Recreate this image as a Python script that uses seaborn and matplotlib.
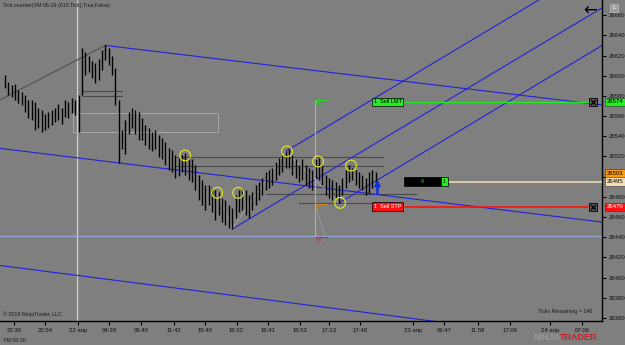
import numpy as np
import pandas as pd
import seaborn as sns
import matplotlib
matplotlib.use("Agg")
import matplotlib.pyplot as plt
from matplotlib.transforms import blended_transform_factory
from matplotlib.patches import Rectangle

# ---------------- data ----------------
highs = [26601, 26594, 26591, 26592, 26586, 26584, 26581, 26576, 26576, 26574,
         26568, 26566, 26562, 26564, 26566, 26568, 26572, 26568, 26576, 26574,
         26578, 26576, 26581, 26627, 26623, 26620, 26615, 26613, 26617, 26625,
         26630, 26627, 26620, 26608, 26576, 26546, 26556, 26564, 26568, 26566,
         26564, 26558, 26551, 26548, 26544, 26546, 26541, 26538, 26534, 26528,
         26526, 26521, 26518, 26521, 26523, 26520, 26517, 26512, 26502, 26497,
         26492, 26492, 26489, 26487, 26485, 26479, 26477, 26472, 26469, 26482,
         26487, 26489, 26487, 26482, 26485, 26492, 26495, 26499, 26505, 26507,
         26509, 26515, 26518, 26521, 26525, 26527, 26521, 26517, 26512, 26517,
         26512, 26509, 26507, 26517, 26518, 26512, 26502, 26499, 26497, 26495,
         26492, 26499, 26507, 26512, 26509, 26507, 26505, 26502, 26499, 26505,
         26507, 26505]
lows = [26588, 26581, 26579, 26576, 26573, 26571, 26564, 26558, 26556, 26546,
        26548, 26544, 26546, 26548, 26551, 26554, 26556, 26552, 26559, 26558,
        26563, 26561, 26544, 26581, 26601, 26604, 26598, 26593, 26596, 26606,
        26616, 26611, 26601, 26571, 26514, 26527, 26522, 26542, 26548, 26542,
        26536, 26536, 26531, 26527, 26525, 26527, 26519, 26517, 26512, 26507,
        26505, 26499, 26501, 26505, 26502, 26497, 26495, 26487, 26477, 26472,
        26467, 26472, 26465, 26457, 26462, 26455, 26452, 26449, 26448, 26459,
        26465, 26467, 26462, 26459, 26467, 26472, 26477, 26482, 26487, 26489,
        26492, 26497, 26502, 26505, 26509, 26509, 26502, 26499, 26495, 26497,
        26492, 26489, 26487, 26499, 26497, 26492, 26482, 26479, 26477, 26479,
        26474, 26482, 26489, 26495, 26497, 26492, 26489, 26487, 26482, 26484,
        26489, 26492]

y_ticks = list(range(26360, 26661, 20))
x_tick_pos = [2.7, 12.1, 21.8, 31.1, 40.7, 50.5, 59.9, 69.3, 78.7, 88.2,
              96.9, 106.3, 122.2, 131.4, 141.6, 151.2, 163.2, 172.8]
x_tick_labels = ["22:36", "22:54", "22 апр", "04:29", "06:40", "11:42", "15:40",
                 "16:32", "16:41", "16:53", "17:13", "17:40", "23 апр", "06:47",
                 "11:58", "17:06", "24 апр", "07:06"]

# pivot markers (yellow circles)
circ_x = [53.9, 63.5, 69.8, 84.4, 93.7, 100.3, 103.6]
circ_y = [26521, 26484, 26484, 26525, 26515, 26474, 26511]

# drawing tools (anchor points: bar index, price)
gray_trend = ([-1.5, 30], [26576, 26630])
chan_top = ([30, 178.7], [26630, 26571])
chan_mid = ([-1.5, 178.7], [26528, 26455])
chan_bot = ([-1.5, 130.2], [26412, 26356])
up_slope = 1.98
up_anchors = [(84, 26525), (68, 26448), (100, 26474)]
support_level = 26441
levels_dark = [(26519, 51, 113), (26511, 51, 113), (26483, 78, 123), (26474, 88, 114),
               (26585, 23, 35), (26580, 23, 35)]
box_zone = (20.4, 63.8, 26544, 26563)
cursor_x = 21.6
fib_x = 92.8
fib_top, fib_zero, fib_bot = 26576, 26473, 26440

# orders
lmt_price = 26574
stp_price = 26470
last_price = 26495
ask_price = 26503

# ---------------- style ----------------
sns.set_theme(style="dark")
bg = "#7f7f7f"
plt.rcParams["font.family"] = ["Liberation Sans", "DejaVu Sans"]

fig = plt.figure(figsize=(6.25, 3.45), dpi=100, facecolor=bg)
ax = fig.add_axes([0, 24 / 345, 602 / 625, 321 / 345])
ax.set_facecolor(bg)
ax.set_xlim(-1.5, 178.7)
ax.set_ylim(26357, 26675)
ax.grid(False)
for s in ["left", "top"]:
    ax.spines[s].set_visible(False)
for s in ["right", "bottom"]:
    ax.spines[s].set_color("black")
    ax.spines[s].set_linewidth(1.0)
ax.yaxis.tick_right()
ax.set_yticks(y_ticks)
ax.set_yticklabels([str(v) for v in y_ticks])
ax.set_xticks(x_tick_pos)
ax.set_xticklabels(x_tick_labels)
ax.tick_params(axis="both", which="both", length=3, width=0.8, color="black",
               labelsize=4.3, labelcolor="#111111", pad=2, bottom=True, right=True,
               left=False)

idx = np.arange(len(highs))

# background objects
ax.axvline(cursor_x, color="#cfcfcf", lw=0.9, zorder=1)
ax.axhline(support_level, color="#8fa3d6", lw=1.0, zorder=1)
ax.add_patch(Rectangle((box_zone[0], box_zone[2]), box_zone[1] - box_zone[0],
                       box_zone[3] - box_zone[2], fill=False, ec="#a8a8a8", lw=0.7, zorder=1))
for lvl, x0, x1 in levels_dark:
    ax.plot([x0, x1], [lvl, lvl], color="#4a4a4a", lw=0.8, zorder=1)

sns.lineplot(x=gray_trend[0], y=gray_trend[1], ax=ax, color="#555555", lw=0.9, zorder=2)
for ln in (chan_top, chan_mid, chan_bot):
    sns.lineplot(x=ln[0], y=ln[1], ax=ax, color="#2222d8", lw=0.8, zorder=2)
for ax0, p0 in up_anchors:
    xs = [ax0, 200]
    ys = [p0, p0 + up_slope * (200 - ax0)]
    sns.lineplot(x=xs, y=ys, ax=ax, color="#2222d8", lw=0.8, zorder=2)

# pivot connectors
ax.plot([68, 84, 100], [26448, 26525, 26474], color="#a0a0a0", lw=0.6, zorder=2)
ax.plot([63.5, 68], [26484, 26448], color="#a0a0a0", lw=0.6, zorder=2)

# fib tool
ax.plot([fib_x, fib_x], [fib_bot, fib_top], color="#b0b0b0", lw=0.8, zorder=2)
ax.plot([fib_x, fib_x + 3.6], [fib_top, fib_top], color="#22dd22", lw=0.8, zorder=2)
ax.plot([fib_x, fib_x + 3.6], [fib_zero, fib_zero], color="#d08a20", lw=0.8, zorder=2)
ax.plot([fib_x, fib_x + 3.6], [fib_bot, fib_bot], color="#c03040", lw=0.8, zorder=2)
ax.plot([fib_x, fib_x + 3.0], [fib_zero, fib_bot], color="#a0a0a0", lw=0.6, zorder=2)
ax.text(fib_x + 0.3, fib_top - 1, "55", color="#22dd22", fontsize=3.8, va="top", ha="left")
ax.text(fib_x + 0.3, fib_zero - 1, "0", color="#d08a20", fontsize=3.8, va="top", ha="left")
ax.text(fib_x + 0.3, fib_bot - 1, "33", color="#c03040", fontsize=3.8, va="top", ha="left")

# price bars
ax.vlines(idx, lows, highs, colors="black", lw=1.0, zorder=4)

# pivot circles
sns.scatterplot(x=circ_x, y=circ_y, ax=ax, s=60, facecolor="none",
                edgecolor="#e0e020", linewidth=0.9, zorder=5)

# blue arrow
ax.annotate("", xy=(111.5, 26497), xytext=(111.5, 26483),
            arrowprops=dict(arrowstyle="-|>", color="#1030e0", lw=1.8,
                            mutation_scale=7, shrinkA=0, shrinkB=0), zorder=6)

# order lines
ax.plot([119.8, 176], [lmt_price, lmt_price], color="#22ee22", lw=1.0, zorder=3)
ax.plot([119.8, 176], [stp_price, stp_price], color="#ff1010", lw=1.2, zorder=3)
ax.plot([133, 178.7], [last_price, last_price], color="#f5e2c0", lw=1.1, zorder=3)
ax.text(114.5, lmt_price, "1  Sell LMT", fontsize=4, ha="center", va="center", color="black",
        zorder=7, bbox=dict(boxstyle="square,pad=0.35", fc="#22ee22", ec="black", lw=0.5))
ax.text(114.5, stp_price, "1  Sell STP", fontsize=4, ha="center", va="center", color="white",
        zorder=7, bbox=dict(boxstyle="square,pad=0.35", fc="#ff1010", ec="black", lw=0.5))
ax.text(125, last_price, "          8          ", fontsize=4, ha="center", va="center",
        color="#22cc22", zorder=7,
        bbox=dict(boxstyle="square,pad=0.4", fc="black", ec="black", lw=0.5))
ax.text(131.6, last_price, "1", fontsize=4, ha="center", va="center", color="black", zorder=8,
        bbox=dict(boxstyle="square,pad=0.35", fc="#22ee22", ec="black", lw=0.5))
for p in (lmt_price, stp_price):
    ax.scatter([176], [p], marker="s", s=28, c="#555555", edgecolors="black",
               linewidths=0.6, zorder=8)
    ax.scatter([176], [p], marker="x", s=12, c="black", linewidths=0.9, zorder=9)

# right axis price flags
tr = blended_transform_factory(ax.transAxes, ax.transData)
flags = [(lmt_price, "#22ee22", "black"), (ask_price, "#ff9a10", "black"),
         (last_price, "#f5dfb8", "black"), (stp_price, "#ff1010", "white")]
for p, fc, tc in flags:
    ax.text(1.008, p, str(p), transform=tr, fontsize=4.3, ha="left", va="center", color=tc,
            zorder=10, clip_on=False,
            bbox=dict(boxstyle="square,pad=0.3", fc=fc, ec="#333333", lw=0.4))

# annotations / texts
fig.text(3 / 625, 1 - 5 / 345, "Tick counter(YM 06-19 (610 Tick),True,False)", fontsize=3.8,
         color="#1a1a1a", ha="left", va="center")
fig.text(3 / 625, 1 - 314 / 345, "© 2019 NinjaTrader, LLC", fontsize=3.8, color="#1a1a1a",
         ha="left", va="center")
fig.text(538 / 625, 1 - 312 / 345, "Ticks Remaining = 140", fontsize=3.8, color="#1a1a1a",
         ha="left", va="center")
fig.text(3 / 625, 1 - 340 / 345, "YM 06-20", fontsize=3.8, color="#1a1a1a", ha="left",
         va="center")
fig.text(590 / 625, 1 - 11 / 345, "←", fontsize=12, color="black", ha="center", va="center",
         family="DejaVu Sans")
fig.text(614 / 625, 1 - 8 / 345, "F", fontsize=4.5, color="white", ha="center", va="center",
         bbox=dict(boxstyle="square,pad=0.3", fc="#9a9a9a", ec="#bdbdbd", lw=0.5))
fig.text(560 / 625, 1 - 338 / 345, "NINJA", fontsize=6.5, color="#9a9a9a", ha="right",
         va="center", fontweight="bold")
fig.text(560 / 625, 1 - 338 / 345, "TRADER", fontsize=6.5, color="#c8202a", ha="left",
         va="center", fontweight="bold")

fig.savefig("out.png", dpi=100, facecolor=bg)
